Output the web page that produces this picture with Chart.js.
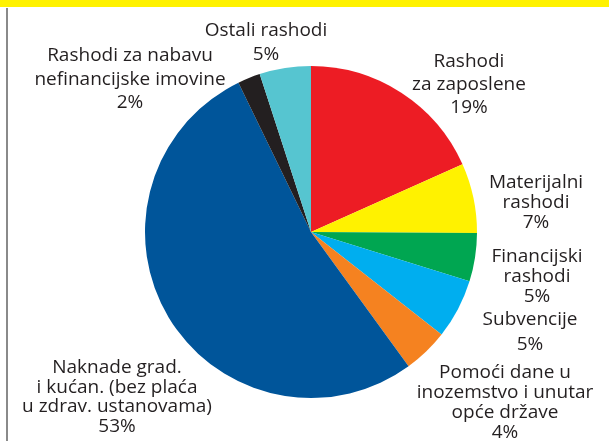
<!DOCTYPE html>
<html>
<head>
<meta charset="utf-8">
<script src="https://cdn.jsdelivr.net/npm/chart.js@4/dist/chart.umd.min.js"></script>
<style>
   html, body { margin: 0; padding: 0; background: #fff; }
   #wrap { position: relative; width: 609px; height: 441px; }
</style>
</head>
<body>
<div id="wrap"><canvas id="pieChart" width="609" height="441"></canvas></div>
<script>
// Slices, clockwise from 12 o'clock
const categories = [
   "Rashodi za zaposlene",
   "Materijalni rashodi",
   "Financijski rashodi",
   "Subvencije",
   "Pomoći dane u inozemstvo i unutar opće države",
   "Naknade grad. i kućan. (bez plaća u zdrav. ustanovama)",
   "Rashodi za nabavu nefinancijske imovine",
   "Ostali rashodi",
];
const shares = [18.3, 6.8, 4.7, 5.8, 4.4, 52.8, 2.2, 5.0];
const shareLabels = ["19%", "7%", "5%", "5%", "4%", "53%", "2%", "5%"];
const sliceColors = ["#ED1C24", "#FFF200", "#00A651", "#00AEEF", "#F58220", "#00559A", "#231F20", "#56C5D0"];

// Label text lines as printed next to each slice
const labelLines = [
   ["Rashodi", "za zaposlene"],
   ["Materijalni", "rashodi"],
   ["Financijski", "rashodi"],
   ["Subvencije"],
   ["Pomoći dane u", "inozemstvo i unutar", "opće države"],
   ["Naknade grad.", "i kućan. (bez plaća", "u zdrav. ustanovama)"],
   ["Rashodi za nabavu", "nefinancijske imovine"],
   ["Ostali rashodi"],
];
// label block placement: centre x, first baseline, line step
const labelPos = [
   { x: 469, y: 67, step: 23 },
   { x: 536, y: 188, step: 20 },
   { x: 537, y: 262, step: 20 },
   { x: 530, y: 325, step: 25 },
   { x: 505, y: 378, step: 20 },
   { x: 117, y: 373, step: 19.7 },
   { x: 130, y: 61, step: 23.5 },
   { x: 266, y: 36, step: 23.5 },
];

const framePlugin = {
   id: "frame",
   beforeDraw(chart) {
      const ctx = chart.ctx;
      ctx.save();
      ctx.fillStyle = "#fff";
      ctx.fillRect(0, 0, chart.width, chart.height);
      ctx.fillStyle = "#FFF200";
      ctx.fillRect(0, 0, chart.width, 7);
      ctx.fillStyle = "#8a8a8a";
      ctx.fillRect(6, 8, 2, chart.height - 8);
      ctx.restore();
   },
};

const labelPlugin = {
   id: "sliceLabels",
   afterDraw(chart) {
      const ctx = chart.ctx;
      ctx.save();
      ctx.fillStyle = "#231F20";
      ctx.font = "19px 'Open Sans'";
      ctx.textAlign = "center";
      ctx.textBaseline = "alphabetic";
      labelLines.forEach((lines, i) => {
         const p = labelPos[i];
         const all = lines.concat([shareLabels[i]]);
         all.forEach((line, j) => {
            ctx.fillText(line, p.x, p.y + j * p.step);
         });
      });
      ctx.restore();
   },
};

const ctx = document.getElementById("pieChart").getContext("2d");
new Chart(ctx, {
   type: "pie",
   data: {
      labels: categories,
      datasets: [
         {
            data: shares,
            backgroundColor: sliceColors,
            borderWidth: 0,
         },
      ],
   },
   options: {
      responsive: false,
      animation: false,
      layout: {
         padding: { left: 145, right: 132, top: 66, bottom: 43 },
      },
      plugins: {
         legend: { display: false },
         tooltip: { enabled: false },
      },
   },
   plugins: [framePlugin, labelPlugin],
});
</script>
</body>
</html>
